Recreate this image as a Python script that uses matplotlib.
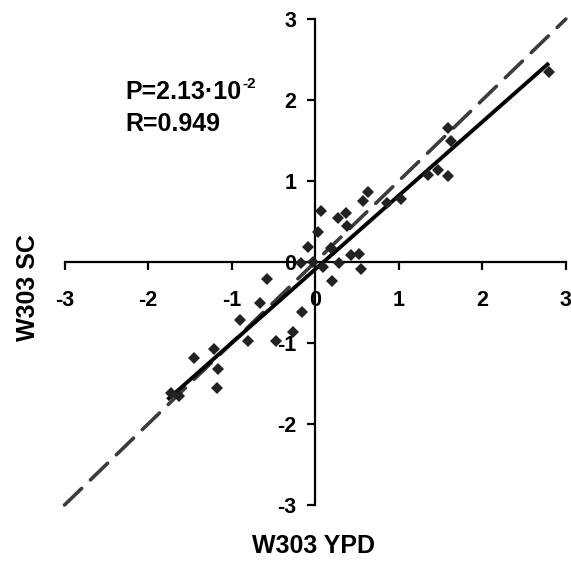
import matplotlib
matplotlib.use("Agg")
import matplotlib.pyplot as plt
import numpy as np

plt.rcParams['font.family'] = ['Liberation Sans', 'DejaVu Sans']
plt.rcParams['font.weight'] = 'bold'
plt.rcParams['mathtext.fontset'] = 'custom'
plt.rcParams['mathtext.rm'] = 'Liberation Sans:bold'
plt.rcParams['mathtext.default'] = 'rm'

# data
x_ypd = [-1.72, -1.63, -1.45, -1.21, -1.16, -1.17, -0.90, -0.81, -0.66, -0.58,
         -0.47, -0.26, -0.16, -0.17, -0.09, -0.03, 0.03, 0.07, 0.09, 0.19,
         0.20, 0.29, 0.27, 0.37, 0.38, 0.43, 0.53, 0.55, 0.57, 0.63,
         0.86, 1.03, 1.35, 1.47, 1.59, 1.59, 1.63, 2.80]
y_sc = [-1.62, -1.65, -1.19, -1.07, -1.32, -1.56, -0.72, -0.97, -0.50, -0.21,
        -0.97, -0.87, -0.62, -0.01, 0.18, 0.00, 0.37, 0.63, -0.06, 0.17,
        -0.24, -0.01, 0.54, 0.60, 0.44, 0.09, 0.10, -0.09, 0.75, 0.87,
        0.73, 0.78, 1.07, 1.14, 1.06, 1.66, 1.50, 2.35]
fit_slope = 0.91
fit_intercept = -0.09
fit_range = [-1.75, 2.78]
diag_range = [-3, 3]
ticks = [-3, -2, -1, 0, 1, 2, 3]
p_text = "P=2.13·10"
p_exp = "-2"
r_text = "R=0.949"
xlabel = "W303 YPD"
ylabel = "W303 SC"

fig = plt.figure(figsize=(5.71, 5.64), dpi=100)
ax = fig.add_axes([0.113, 0.1046, 0.878, 0.8617])
ax.set_xlim(-3, 3)
ax.set_ylim(-3, 3)

# identity dashed line
ax.plot(diag_range, diag_range, color='#3c3c3c', lw=2.6, dashes=(6.6, 3.4),
        dash_capstyle='round', zorder=2, clip_on=False)
# regression line
fx = np.array(fit_range)
ax.plot(fx, fit_slope * fx + fit_intercept, color='black', lw=2.8, zorder=3)
# points
ax.plot(x_ypd, y_sc, linestyle='none', marker='D', ms=6.5, color='#222222',
        markeredgewidth=0, zorder=4)

for s in ['top', 'right']:
    ax.spines[s].set_visible(False)
ax.spines['left'].set_position(('data', 0))
ax.spines['bottom'].set_position(('data', 0))
for s in ['left', 'bottom']:
    ax.spines[s].set_linewidth(1.6)
ax.set_xticks(ticks)
ax.set_yticks(ticks)
ax.set_xticklabels([str(t) for t in ticks])
ax.set_yticklabels([str(t) for t in ticks])
ax.tick_params(axis='x', direction='out', length=5.5, width=1.6, pad=15, labelsize=15.5)
ax.tick_params(axis='y', direction='out', length=5.5, width=1.6, pad=8, labelsize=15.5)
for lab in ax.get_xticklabels() + ax.get_yticklabels():
    lab.set_fontweight('bold')

fig.text(314 / 571, 1 - 546 / 564, xlabel, ha='center', va='center',
         fontsize=18, fontweight='bold')
fig.text(28 / 571, 1 - 288 / 564, ylabel, ha='center', va='center',
         rotation=90, fontsize=18, fontweight='bold')
pt = fig.text(125 / 571, 1 - 92 / 564, p_text, ha='left', va='center',
              fontsize=18, fontweight='bold')
fig.canvas.draw()
bb = pt.get_window_extent()
fig.text(bb.x1 / fig.bbox.width + 0.002, (bb.y1 - 4) / fig.bbox.height, p_exp,
         ha='left', va='center', fontsize=11, fontweight='bold')
fig.text(125 / 571, 1 - 124 / 564, r_text, ha='left', va='center',
         fontsize=18, fontweight='bold')

fig.savefig("out.png", dpi=100)
